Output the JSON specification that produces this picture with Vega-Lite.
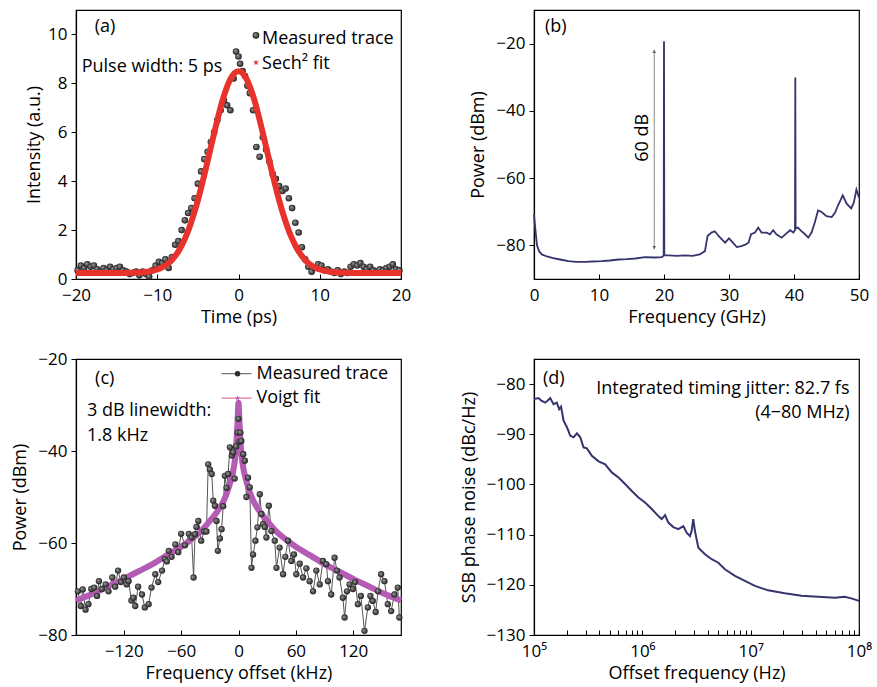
{
  "$schema": "https://vega.github.io/schema/vega-lite/v6.json",
  "padding": {"left": 11, "top": 9, "right": 5, "bottom": 5},
  "background": "white",
  "config": {
    "font": "Open Sans",
    "view": {"stroke": "black", "strokeWidth": 1.2},
    "axis": {"labelFontSize": 17, "titleFontSize": 18, "titleFontWeight": "normal", "labelColor": "black", "titleColor": "black", "domainColor": "black", "tickColor": "black", "grid": false, "labelFlush": false, "labelOverlap": false, "domainWidth": 1.2, "tickWidth": 1},
    "axisX": {"tickSize": -5, "labelPadding": 13, "titlePadding": 5},
    "axisY": {"tickSize": 5, "labelPadding": 4, "titlePadding": 8},
    "text": {"font": "Open Sans", "fontSize": 18, "color": "black"}
  },
  "datasets": {
    "measA": [
      {"t": -19.8, "v": 0.35}, {"t": -19.4, "v": 0.55}, {"t": -19.0, "v": 0.45}, {"t": -18.6, "v": 0.6}, {"t": -18.2, "v": 0.5},
      {"t": -17.8, "v": 0.55}, {"t": -17.4, "v": 0.4}, {"t": -17.0, "v": 0.3}, {"t": -16.6, "v": 0.45}, {"t": -16.2, "v": 0.35},
      {"t": -15.8, "v": 0.5}, {"t": -15.4, "v": 0.4}, {"t": -15.0, "v": 0.45}, {"t": -14.6, "v": 0.5}, {"t": -14.2, "v": 0.35},
      {"t": -13.8, "v": 0.3}, {"t": -13.4, "v": 0.2}, {"t": -13.0, "v": 0.25}, {"t": -12.6, "v": 0.3}, {"t": -12.2, "v": 0.15},
      {"t": -11.8, "v": 0.3}, {"t": -11.4, "v": 0.2}, {"t": -11.0, "v": 0.1}, {"t": -10.6, "v": 0.35}, {"t": -10.2, "v": 0.55},
      {"t": -9.8, "v": 0.7}, {"t": -9.4, "v": 0.65}, {"t": -9.0, "v": 0.8}, {"t": -8.6, "v": 0.45}, {"t": -8.2, "v": 0.9},
      {"t": -7.8, "v": 1.4}, {"t": -7.4, "v": 1.55}, {"t": -7.0, "v": 2.0}, {"t": -6.6, "v": 2.4}, {"t": -6.2, "v": 2.7},
      {"t": -5.8, "v": 2.9}, {"t": -5.4, "v": 3.3}, {"t": -5.0, "v": 3.9}, {"t": -4.6, "v": 4.4}, {"t": -4.2, "v": 4.9},
      {"t": -3.8, "v": 5.2}, {"t": -3.4, "v": 5.6}, {"t": -3.0, "v": 6.0}, {"t": -2.6, "v": 6.5}, {"t": -2.2, "v": 6.9},
      {"t": -1.8, "v": 7.3}, {"t": -1.4, "v": 7.1}, {"t": -1.0, "v": 6.9}, {"t": -0.6, "v": 8.2}, {"t": -0.3, "v": 9.3},
      {"t": 0.0, "v": 9.1}, {"t": 0.2, "v": 8.8}, {"t": 0.5, "v": 8.5}, {"t": 0.8, "v": 8.3}, {"t": 1.1, "v": 7.9},
      {"t": 1.4, "v": 7.6}, {"t": 1.8, "v": 6.9}, {"t": 2.2, "v": 5.4}, {"t": 2.6, "v": 5.0}, {"t": 3.0, "v": 5.8},
      {"t": 3.4, "v": 5.3}, {"t": 3.8, "v": 4.8}, {"t": 4.2, "v": 4.3}, {"t": 4.6, "v": 4.1}, {"t": 5.0, "v": 3.8},
      {"t": 5.4, "v": 3.6}, {"t": 5.8, "v": 3.7}, {"t": 6.2, "v": 3.3}, {"t": 6.6, "v": 2.9}, {"t": 7.0, "v": 2.3},
      {"t": 7.4, "v": 1.9}, {"t": 7.8, "v": 1.3}, {"t": 8.2, "v": 0.8}, {"t": 8.6, "v": 0.5}, {"t": 9.0, "v": 0.3},
      {"t": 9.4, "v": 0.45}, {"t": 9.8, "v": 0.6}, {"t": 10.2, "v": 0.55}, {"t": 10.6, "v": 0.35}, {"t": 11.0, "v": 0.4},
      {"t": 11.4, "v": 0.3}, {"t": 11.8, "v": 0.25}, {"t": 12.2, "v": 0.35}, {"t": 12.6, "v": 0.2}, {"t": 13.0, "v": 0.3},
      {"t": 13.4, "v": 0.25}, {"t": 13.8, "v": 0.5}, {"t": 14.2, "v": 0.6}, {"t": 14.6, "v": 0.55}, {"t": 15.0, "v": 0.65},
      {"t": 15.4, "v": 0.5}, {"t": 15.8, "v": 0.4}, {"t": 16.2, "v": 0.5}, {"t": 16.6, "v": 0.35}, {"t": 17.0, "v": 0.3},
      {"t": 17.4, "v": 0.4}, {"t": 17.8, "v": 0.35}, {"t": 18.2, "v": 0.45}, {"t": 18.6, "v": 0.5}, {"t": 19.0, "v": 0.6},
      {"t": 19.4, "v": 0.4}, {"t": 19.8, "v": 0.35}
    ],
    "fitA": [
      {"t": -20, "v": 0.25}, {"t": -14, "v": 0.25}, {"t": -13, "v": 0.26}, {"t": -12, "v": 0.27}, {"t": -11, "v": 0.31},
      {"t": -10, "v": 0.39}, {"t": -9.5, "v": 0.46}, {"t": -9, "v": 0.55}, {"t": -8.5, "v": 0.68}, {"t": -8, "v": 0.86},
      {"t": -7.5, "v": 1.08}, {"t": -7, "v": 1.37}, {"t": -6.5, "v": 1.72}, {"t": -6, "v": 2.15}, {"t": -5.5, "v": 2.65},
      {"t": -5, "v": 3.22}, {"t": -4.5, "v": 3.86}, {"t": -4, "v": 4.54}, {"t": -3.5, "v": 5.25}, {"t": -3, "v": 5.96},
      {"t": -2.5, "v": 6.64}, {"t": -2, "v": 7.26}, {"t": -1.5, "v": 7.78}, {"t": -1, "v": 8.17}, {"t": -0.5, "v": 8.42},
      {"t": 0, "v": 8.5}, {"t": 0.5, "v": 8.42}, {"t": 1, "v": 8.17}, {"t": 1.5, "v": 7.78}, {"t": 2, "v": 7.26},
      {"t": 2.5, "v": 6.64}, {"t": 3, "v": 5.96}, {"t": 3.5, "v": 5.25}, {"t": 4, "v": 4.54}, {"t": 4.5, "v": 3.86},
      {"t": 5, "v": 3.22}, {"t": 5.5, "v": 2.65}, {"t": 6, "v": 2.15}, {"t": 6.5, "v": 1.72}, {"t": 7, "v": 1.37},
      {"t": 7.5, "v": 1.08}, {"t": 8, "v": 0.86}, {"t": 8.5, "v": 0.68}, {"t": 9, "v": 0.55}, {"t": 9.5, "v": 0.46},
      {"t": 10, "v": 0.39}, {"t": 11, "v": 0.31}, {"t": 12, "v": 0.27}, {"t": 13, "v": 0.26}, {"t": 14, "v": 0.25},
      {"t": 20, "v": 0.25}
    ],
    "specB": [
      {"f": 0, "p": -70.8}, {"f": 0.15, "p": -74}, {"f": 0.46, "p": -80}, {"f": 0.8, "p": -81.8}, {"f": 1.2, "p": -82.7},
      {"f": 2, "p": -83.3}, {"f": 2.8, "p": -83.7}, {"f": 4, "p": -84.2}, {"f": 5.3, "p": -84.7}, {"f": 6.5, "p": -84.9},
      {"f": 7.9, "p": -84.9}, {"f": 9, "p": -84.8}, {"f": 10.4, "p": -84.7}, {"f": 11.7, "p": -84.5}, {"f": 13, "p": -84.2},
      {"f": 14.3, "p": -84.1}, {"f": 15.6, "p": -83.9}, {"f": 17.1, "p": -83.5}, {"f": 18.5, "p": -83.6}, {"f": 19.7, "p": -83.5},
      {"f": 19.95, "p": -83}, {"f": 20.0, "p": -19.3}, {"f": 20.05, "p": -83}, {"f": 20.7, "p": -83}, {"f": 22, "p": -83.1},
      {"f": 23.2, "p": -83}, {"f": 24.4, "p": -83.1}, {"f": 25.5, "p": -82.7}, {"f": 26.3, "p": -81.7}, {"f": 26.7, "p": -77.2},
      {"f": 27.3, "p": -76.2}, {"f": 27.8, "p": -75.8}, {"f": 28.4, "p": -77.2}, {"f": 28.9, "p": -78.2}, {"f": 29.4, "p": -79.2},
      {"f": 30, "p": -77.9}, {"f": 30.6, "p": -79.2}, {"f": 31.2, "p": -80.5}, {"f": 31.9, "p": -80.2}, {"f": 32.5, "p": -79.8},
      {"f": 33, "p": -79.2}, {"f": 33.4, "p": -76.7}, {"f": 34, "p": -76.2}, {"f": 34.5, "p": -74.7}, {"f": 35, "p": -76.2},
      {"f": 35.8, "p": -76.2}, {"f": 36.3, "p": -76.7}, {"f": 36.8, "p": -75.5}, {"f": 37.3, "p": -76.7}, {"f": 38.1, "p": -77.7},
      {"f": 38.8, "p": -76.5}, {"f": 39.4, "p": -75.5}, {"f": 39.9, "p": -76.2}, {"f": 40.15, "p": -75.5}, {"f": 40.2, "p": -30.1},
      {"f": 40.25, "p": -75}, {"f": 40.6, "p": -74.7}, {"f": 41.1, "p": -75.7}, {"f": 41.7, "p": -76.7}, {"f": 42.2, "p": -77.7},
      {"f": 42.7, "p": -76.2}, {"f": 43.2, "p": -73.2}, {"f": 43.7, "p": -69.6}, {"f": 44.2, "p": -70}, {"f": 45, "p": -71.3},
      {"f": 45.8, "p": -71.6}, {"f": 46.3, "p": -70.3}, {"f": 46.8, "p": -68}, {"f": 47.5, "p": -65.1}, {"f": 48.1, "p": -67.6},
      {"f": 48.8, "p": -69}, {"f": 49.2, "p": -67.3}, {"f": 49.6, "p": -63.4}, {"f": 50, "p": -65.8}
    ],
    "measC": [
      {"k": -168, "p": -70.5}, {"k": -165, "p": -73.7}, {"k": -163, "p": -70.1}, {"k": -160, "p": -74.5}, {"k": -157, "p": -73.3},
      {"k": -154, "p": -70}, {"k": -151, "p": -69.7}, {"k": -148, "p": -71.5}, {"k": -146, "p": -68.3}, {"k": -143, "p": -70},
      {"k": -139, "p": -69}, {"k": -136, "p": -70.5}, {"k": -132, "p": -67.5}, {"k": -129, "p": -69.5}, {"k": -126, "p": -66},
      {"k": -123, "p": -68.5}, {"k": -120, "p": -67.5}, {"k": -117, "p": -69}, {"k": -115, "p": -68.3}, {"k": -112, "p": -72.5},
      {"k": -110, "p": -71.9}, {"k": -108, "p": -73.7}, {"k": -105, "p": -69.5}, {"k": -101, "p": -71.2}, {"k": -98, "p": -74},
      {"k": -94, "p": -73.3}, {"k": -91, "p": -69.7}, {"k": -87, "p": -66.8}, {"k": -84, "p": -68.5}, {"k": -80, "p": -66},
      {"k": -77, "p": -63.5}, {"k": -75, "p": -64}, {"k": -73, "p": -61.7}, {"k": -70, "p": -63}, {"k": -66, "p": -60.3},
      {"k": -63, "p": -62}, {"k": -60, "p": -58}, {"k": -56, "p": -60.5}, {"k": -52, "p": -58}, {"k": -49, "p": -58.8},
      {"k": -47, "p": -67.5}, {"k": -45.5, "p": -58.1}, {"k": -44, "p": -56.5}, {"k": -42, "p": -55.2}, {"k": -39, "p": -59.5},
      {"k": -36, "p": -57.5}, {"k": -33.5, "p": -57.5}, {"k": -31.7, "p": -42.9}, {"k": -30, "p": -44}, {"k": -28, "p": -45},
      {"k": -26.4, "p": -50.8}, {"k": -24.7, "p": -51.9}, {"k": -23, "p": -55.2}, {"k": -21.6, "p": -61.7}, {"k": -19.5, "p": -59},
      {"k": -17.7, "p": -57}, {"k": -16, "p": -52}, {"k": -14.3, "p": -45.4}, {"k": -12.5, "p": -48}, {"k": -10.8, "p": -45},
      {"k": -9, "p": -39.2}, {"k": -7, "p": -41}, {"k": -5.6, "p": -40.3}, {"k": -4, "p": -46}, {"k": -2.5, "p": -39},
      {"k": -1, "p": -36}, {"k": 0, "p": -33}, {"k": 1, "p": -38}, {"k": 2, "p": -36}, {"k": 3, "p": -37.8},
      {"k": 5, "p": -40.7}, {"k": 6.6, "p": -42.1}, {"k": 8.3, "p": -50}, {"k": 10, "p": -45.8}, {"k": 11.8, "p": -47.9},
      {"k": 13.6, "p": -65.4}, {"k": 15.3, "p": -62.5}, {"k": 17.7, "p": -59.5}, {"k": 19.8, "p": -56.6}, {"k": 22.3, "p": -49.4},
      {"k": 24, "p": -53.7}, {"k": 25.7, "p": -55.9}, {"k": 27.5, "p": -56.5}, {"k": 29.2, "p": -58.8}, {"k": 31.7, "p": -51.9},
      {"k": 34.4, "p": -57.4}, {"k": 37.9, "p": -59.5}, {"k": 39.7, "p": -65.4}, {"k": 43, "p": -61}, {"k": 46.6, "p": -66.8},
      {"k": 49, "p": -63}, {"k": 51.8, "p": -59.5}, {"k": 55.3, "p": -63.9}, {"k": 58, "p": -62.5}, {"k": 60.5, "p": -66.8},
      {"k": 64, "p": -64.5}, {"k": 67.5, "p": -67.5}, {"k": 71, "p": -65.5}, {"k": 74.4, "p": -68.3}, {"k": 78, "p": -70.5},
      {"k": 81.4, "p": -66}, {"k": 85, "p": -69}, {"k": 88.3, "p": -63.9}, {"k": 91.8, "p": -64.6}, {"k": 93.6, "p": -68.3},
      {"k": 97, "p": -71.2}, {"k": 100.5, "p": -63.2}, {"k": 103, "p": -66}, {"k": 105.7, "p": -67.5}, {"k": 109.2, "p": -71.9},
      {"k": 111, "p": -76.2}, {"k": 113.5, "p": -70.5}, {"k": 116.2, "p": -69}, {"k": 119.7, "p": -70}, {"k": 122, "p": -68.5},
      {"k": 124.9, "p": -73.3}, {"k": 128, "p": -71.5}, {"k": 131.8, "p": -79.1}, {"k": 135.3, "p": -74}, {"k": 138, "p": -71.5},
      {"k": 140.5, "p": -72.6}, {"k": 143.5, "p": -75}, {"k": 146, "p": -70.5}, {"k": 149.2, "p": -66.8}, {"k": 152.7, "p": -68.3},
      {"k": 156.2, "p": -73.3}, {"k": 159.7, "p": -74.8}, {"k": 163.1, "p": -71.2}, {"k": 166.6, "p": -69.7}, {"k": 168.3, "p": -76.2}
    ],
    "fitC": [
      {"k": -170, "p": -72.5}, {"k": -150, "p": -70.8}, {"k": -135, "p": -69.3}, {"k": -120, "p": -67.8}, {"k": -105, "p": -66.2},
      {"k": -90, "p": -64.6}, {"k": -75, "p": -62.7}, {"k": -60, "p": -60.8}, {"k": -50, "p": -59.3}, {"k": -40, "p": -57.6},
      {"k": -30, "p": -55.2}, {"k": -20, "p": -52.5}, {"k": -15, "p": -50.6}, {"k": -10, "p": -47.8}, {"k": -7.5, "p": -46},
      {"k": -5, "p": -43.7}, {"k": -3, "p": -40.5}, {"k": -2, "p": -37.5}, {"k": -1, "p": -33.5}, {"k": 0, "p": -29.5},
      {"k": 1, "p": -33.5}, {"k": 2, "p": -37.5}, {"k": 3, "p": -40.5}, {"k": 5, "p": -43.7}, {"k": 7.5, "p": -46},
      {"k": 10, "p": -47.8}, {"k": 15, "p": -50.6}, {"k": 20, "p": -52.5}, {"k": 30, "p": -55.2}, {"k": 40, "p": -57.6},
      {"k": 50, "p": -59.3}, {"k": 60, "p": -60.8}, {"k": 75, "p": -62.7}, {"k": 90, "p": -64.6}, {"k": 105, "p": -66.2},
      {"k": 120, "p": -67.8}, {"k": 135, "p": -69.3}, {"k": 150, "p": -70.8}, {"k": 170, "p": -72.5}
    ],
    "noiseD": [
      {"f": 100000, "n": -83.0}, {"f": 110400, "n": -82.8}, {"f": 116700, "n": -83.3}, {"f": 127000, "n": -83.7}, {"f": 141300, "n": -82.8},
      {"f": 151400, "n": -84.0}, {"f": 162200, "n": -83.7}, {"f": 171000, "n": -85.0}, {"f": 177800, "n": -84.5}, {"f": 187500, "n": -87.3},
      {"f": 201400, "n": -88.6}, {"f": 216300, "n": -90.3}, {"f": 231700, "n": -90.6}, {"f": 248900, "n": -89.8}, {"f": 267300, "n": -90.6},
      {"f": 286400, "n": -92.6}, {"f": 307600, "n": -92.8}, {"f": 342000, "n": -94.3}, {"f": 394500, "n": -95.4}, {"f": 453900, "n": -96.0},
      {"f": 522400, "n": -97.6}, {"f": 602600, "n": -98.6}, {"f": 693400, "n": -99.9}, {"f": 799800, "n": -101.3}, {"f": 920400, "n": -102.6},
      {"f": 1059000, "n": -103.6}, {"f": 1222000, "n": -104.9}, {"f": 1406000, "n": -106.3}, {"f": 1510000, "n": -106.9}, {"f": 1622000, "n": -106.1},
      {"f": 1738000, "n": -107.6}, {"f": 1932000, "n": -108.5}, {"f": 2148000, "n": -108.9}, {"f": 2393000, "n": -108.3}, {"f": 2564000, "n": -109.6},
      {"f": 2754000, "n": -110.3}, {"f": 2851000, "n": -109.3}, {"f": 2951000, "n": -106.9}, {"f": 3062000, "n": -109.3}, {"f": 3289000, "n": -112.6},
      {"f": 3784000, "n": -113.9}, {"f": 4365000, "n": -114.9}, {"f": 5023000, "n": -115.6}, {"f": 5781000, "n": -116.9}, {"f": 7161000, "n": -118.2},
      {"f": 8851000, "n": -119.2}, {"f": 10940000, "n": -120.2}, {"f": 14490000, "n": -121.1}, {"f": 20650000, "n": -121.7}, {"f": 29440000, "n": -122.2},
      {"f": 41880000, "n": -122.4}, {"f": 59700000, "n": -122.6}, {"f": 73790000, "n": -122.4}, {"f": 84920000, "n": -122.7}, {"f": 100000000, "n": -123.2}
    ]
  },
  "bounds": "flush",
  "columns": 2,
  "spacing": {"row": 80, "column": 133},
  "concat": [
    {
      "width": 325,
      "height": 269,
      "layer": [
        {
          "data": {"name": "measA"},
          "mark": {"type": "point", "filled": true, "size": 44, "opacity": 1, "color": {"gradient": "radial", "x1": 0.35, "y1": 0.35, "r1": 0, "x2": 0.5, "y2": 0.5, "r2": 0.5, "stops": [{"offset": 0, "color": "#a0a0a0"}, {"offset": 1, "color": "#1c1c1c"}]}},
          "encoding": {
            "x": {"field": "t", "type": "quantitative", "scale": {"domain": [-20, 20], "nice": false, "zero": false}, "axis": {"values": [-20, -10, 0, 10, 20], "title": "Time (ps)"}},
            "y": {"field": "v", "type": "quantitative", "scale": {"domain": [0, 11], "nice": false, "zero": false}, "axis": {"values": [0, 2, 4, 6, 8, 10], "title": "Intensity (a.u.)", "titlePadding": 4}}
          }
        },
        {
          "data": {"name": "fitA"},
          "mark": {"type": "line", "color": "#e8322c", "strokeWidth": 6, "interpolate": "monotone"},
          "encoding": {"x": {"field": "t", "type": "quantitative"}, "y": {"field": "v", "type": "quantitative"}}
        },
        {"data": {"values": [{}]}, "mark": {"type": "text", "text": "(a)", "align": "left", "baseline": "middle"}, "encoding": {"x": {"datum": -17.7}, "y": {"datum": 10.3}}},
        {"data": {"values": [{}]}, "mark": {"type": "text", "text": "Pulse width: 5 ps", "align": "left", "baseline": "middle"}, "encoding": {"x": {"datum": -19.3}, "y": {"datum": 8.65}}},
        {
          "data": {"values": [{}]},
          "mark": {"type": "point", "filled": true, "size": 44, "opacity": 1, "color": {"gradient": "radial", "x1": 0.35, "y1": 0.35, "r1": 0, "x2": 0.5, "y2": 0.5, "r2": 0.5, "stops": [{"offset": 0, "color": "#a0a0a0"}, {"offset": 1, "color": "#1c1c1c"}]}},
          "encoding": {"x": {"datum": 2.15}, "y": {"datum": 9.96}}
        },
        {"data": {"values": [{}]}, "mark": {"type": "text", "text": "Measured trace", "align": "left", "baseline": "middle"}, "encoding": {"x": {"datum": 2.9}, "y": {"datum": 9.83}}},
        {
          "data": {"values": [{}]},
          "mark": {"type": "point", "filled": true, "size": 40, "opacity": 1, "color": "#e8322c", "shape": "M0,-1L0.224,-0.309L0.951,-0.309L0.363,0.118L0.588,0.809L0,0.382L-0.588,0.809L-0.363,0.118L-0.951,-0.309L-0.224,-0.309Z"},
          "encoding": {"x": {"datum": 2.15}, "y": {"datum": 8.85}}
        },
        {"data": {"values": [{}]}, "mark": {"type": "text", "text": "Sech² fit", "align": "left", "baseline": "middle"}, "encoding": {"x": {"datum": 2.9}, "y": {"datum": 8.8}}}
      ]
    },
    {
      "width": 325,
      "height": 269,
      "layer": [
        {
          "data": {"name": "specB"},
          "mark": {"type": "line", "color": "#34346e", "strokeWidth": 1.8},
          "encoding": {
            "x": {"field": "f", "type": "quantitative", "scale": {"domain": [0, 50], "nice": false, "zero": false}, "axis": {"values": [0, 10, 20, 30, 40, 50], "title": "Frequency (GHz)"}},
            "y": {"field": "p", "type": "quantitative", "scale": {"domain": [-90, -10], "nice": false, "zero": false}, "axis": {"values": [-80, -60, -40, -20], "title": "Power (dBm)"}}
          }
        },
        {"data": {"values": [{}]}, "mark": {"type": "rule", "color": "#8a8a8a", "strokeWidth": 1}, "encoding": {"x": {"datum": 18.5}, "y": {"datum": -21.8}, "y2": {"datum": -81.2}}},
        {"data": {"values": [{}]}, "mark": {"type": "point", "filled": true, "shape": "triangle-up", "size": 14, "color": "#666", "opacity": 1}, "encoding": {"x": {"datum": 18.5}, "y": {"datum": -22.3}}},
        {"data": {"values": [{}]}, "mark": {"type": "point", "filled": true, "shape": "triangle-down", "size": 14, "color": "#666", "opacity": 1}, "encoding": {"x": {"datum": 18.5}, "y": {"datum": -80.7}}},
        {"data": {"values": [{}]}, "mark": {"type": "text", "text": "60 dB", "align": "center", "baseline": "middle", "angle": 270}, "encoding": {"x": {"datum": 16.8}, "y": {"datum": -48}}},
        {"data": {"values": [{}]}, "mark": {"type": "text", "text": "(b)", "align": "left", "baseline": "middle"}, "encoding": {"x": {"datum": 1.7}, "y": {"datum": -15.2}}}
      ]
    },
    {
      "width": 325,
      "height": 276,
      "layer": [
        {
          "data": {"name": "measC"},
          "mark": {"type": "line", "color": "#555555", "strokeWidth": 1},
          "encoding": {
            "x": {"field": "k", "type": "quantitative", "scale": {"domain": [-170, 170], "nice": false, "zero": false}, "axis": {"values": [-120, -60, 0, 60, 120], "title": "Frequency offset (kHz)"}},
            "y": {"field": "p", "type": "quantitative", "scale": {"domain": [-80, -20], "nice": false, "zero": false}, "axis": {"values": [-80, -60, -40, -20], "title": "Power (dBm)"}}
          }
        },
        {
          "data": {"name": "fitC"},
          "mark": {"type": "line", "color": "#b45cb4", "strokeWidth": 6, "interpolate": "monotone"},
          "encoding": {"x": {"field": "k", "type": "quantitative"}, "y": {"field": "p", "type": "quantitative"}}
        },
        {
          "data": {"name": "measC"},
          "mark": {"type": "point", "filled": true, "size": 40, "opacity": 1, "color": {"gradient": "radial", "x1": 0.35, "y1": 0.35, "r1": 0, "x2": 0.5, "y2": 0.5, "r2": 0.5, "stops": [{"offset": 0, "color": "#a0a0a0"}, {"offset": 1, "color": "#1c1c1c"}]}},
          "encoding": {"x": {"field": "k", "type": "quantitative"}, "y": {"field": "p", "type": "quantitative"}}
        },
        {"data": {"values": [{}]}, "mark": {"type": "text", "text": "(c)", "align": "left", "baseline": "middle"}, "encoding": {"x": {"datum": -150}, "y": {"datum": -24.3}}},
        {"data": {"values": [{}]}, "mark": {"type": "text", "text": "3 dB linewidth:", "align": "left", "baseline": "middle"}, "encoding": {"x": {"datum": -158.5}, "y": {"datum": -31.3}}},
        {"data": {"values": [{}]}, "mark": {"type": "text", "text": "1.8 kHz", "align": "left", "baseline": "middle"}, "encoding": {"x": {"datum": -158.5}, "y": {"datum": -36.7}}},
        {"data": {"values": [{}]}, "mark": {"type": "rule", "color": "#555555", "strokeWidth": 1}, "encoding": {"x": {"datum": -17.7}, "x2": {"datum": 13.6}, "y": {"datum": -23.2}}},
        {"data": {"values": [{}]}, "mark": {"type": "point", "filled": true, "size": 30, "opacity": 1, "color": "#2a2a2a"}, "encoding": {"x": {"datum": -1}, "y": {"datum": -23.2}}},
        {"data": {"values": [{}]}, "mark": {"type": "text", "text": "Measured trace", "align": "left", "baseline": "middle"}, "encoding": {"x": {"datum": 18.8}, "y": {"datum": -23.2}}},
        {"data": {"values": [{}]}, "mark": {"type": "rule", "color": "#e27095", "strokeWidth": 1.2}, "encoding": {"x": {"datum": -17.7}, "x2": {"datum": 13.6}, "y": {"datum": -28.5}}},
        {
          "data": {"values": [{}]},
          "mark": {"type": "point", "filled": true, "size": 30, "opacity": 1, "color": "#b45cb4", "shape": "M0,-1L0.224,-0.309L0.951,-0.309L0.363,0.118L0.588,0.809L0,0.382L-0.588,0.809L-0.363,0.118L-0.951,-0.309L-0.224,-0.309Z"},
          "encoding": {"x": {"datum": -1}, "y": {"datum": -28.5}}
        },
        {"data": {"values": [{}]}, "mark": {"type": "text", "text": "Voigt fit", "align": "left", "baseline": "middle"}, "encoding": {"x": {"datum": 18.8}, "y": {"datum": -28.5}}}
      ]
    },
    {
      "width": 325,
      "height": 276,
      "layer": [
        {
          "data": {"name": "noiseD"},
          "mark": {"type": "line", "color": "#34346e", "strokeWidth": 2},
          "encoding": {
            "x": {"field": "f", "type": "quantitative", "scale": {"type": "log", "domain": [100000, 100000000], "nice": false}, "axis": {"title": "Offset frequency (Hz)", "values": [100000, 200000, 300000, 400000, 500000, 600000, 700000, 800000, 900000, 1000000, 2000000, 3000000, 4000000, 5000000, 6000000, 7000000, 8000000, 9000000, 10000000, 20000000, 30000000, 40000000, 50000000, 60000000, 70000000, 80000000, 90000000, 100000000], "labelExpr": "datum.value == 100000 ? '10⁵' : datum.value == 1000000 ? '10⁶' : datum.value == 10000000 ? '10⁷' : datum.value == 100000000 ? '10⁸' : ''"}},
            "y": {"field": "n", "type": "quantitative", "scale": {"domain": [-130, -75], "nice": false, "zero": false}, "axis": {"values": [-130, -120, -110, -100, -90, -80], "title": "SSB phase noise (dBc/Hz)"}}
          }
        },
        {"data": {"values": [{}]}, "mark": {"type": "text", "text": "(d)", "align": "left", "baseline": "middle"}, "encoding": {"x": {"datum": 121000}, "y": {"datum": -79}}},
        {"data": {"values": [{}]}, "mark": {"type": "text", "text": "Integrated timing jitter: 82.7 fs", "align": "right", "baseline": "middle"}, "encoding": {"x": {"datum": 81700000}, "y": {"datum": -81}}},
        {"data": {"values": [{}]}, "mark": {"type": "text", "text": "(4−80 MHz)", "align": "right", "baseline": "middle"}, "encoding": {"x": {"datum": 81700000}, "y": {"datum": -85.8}}}
      ]
    }
  ]
}
